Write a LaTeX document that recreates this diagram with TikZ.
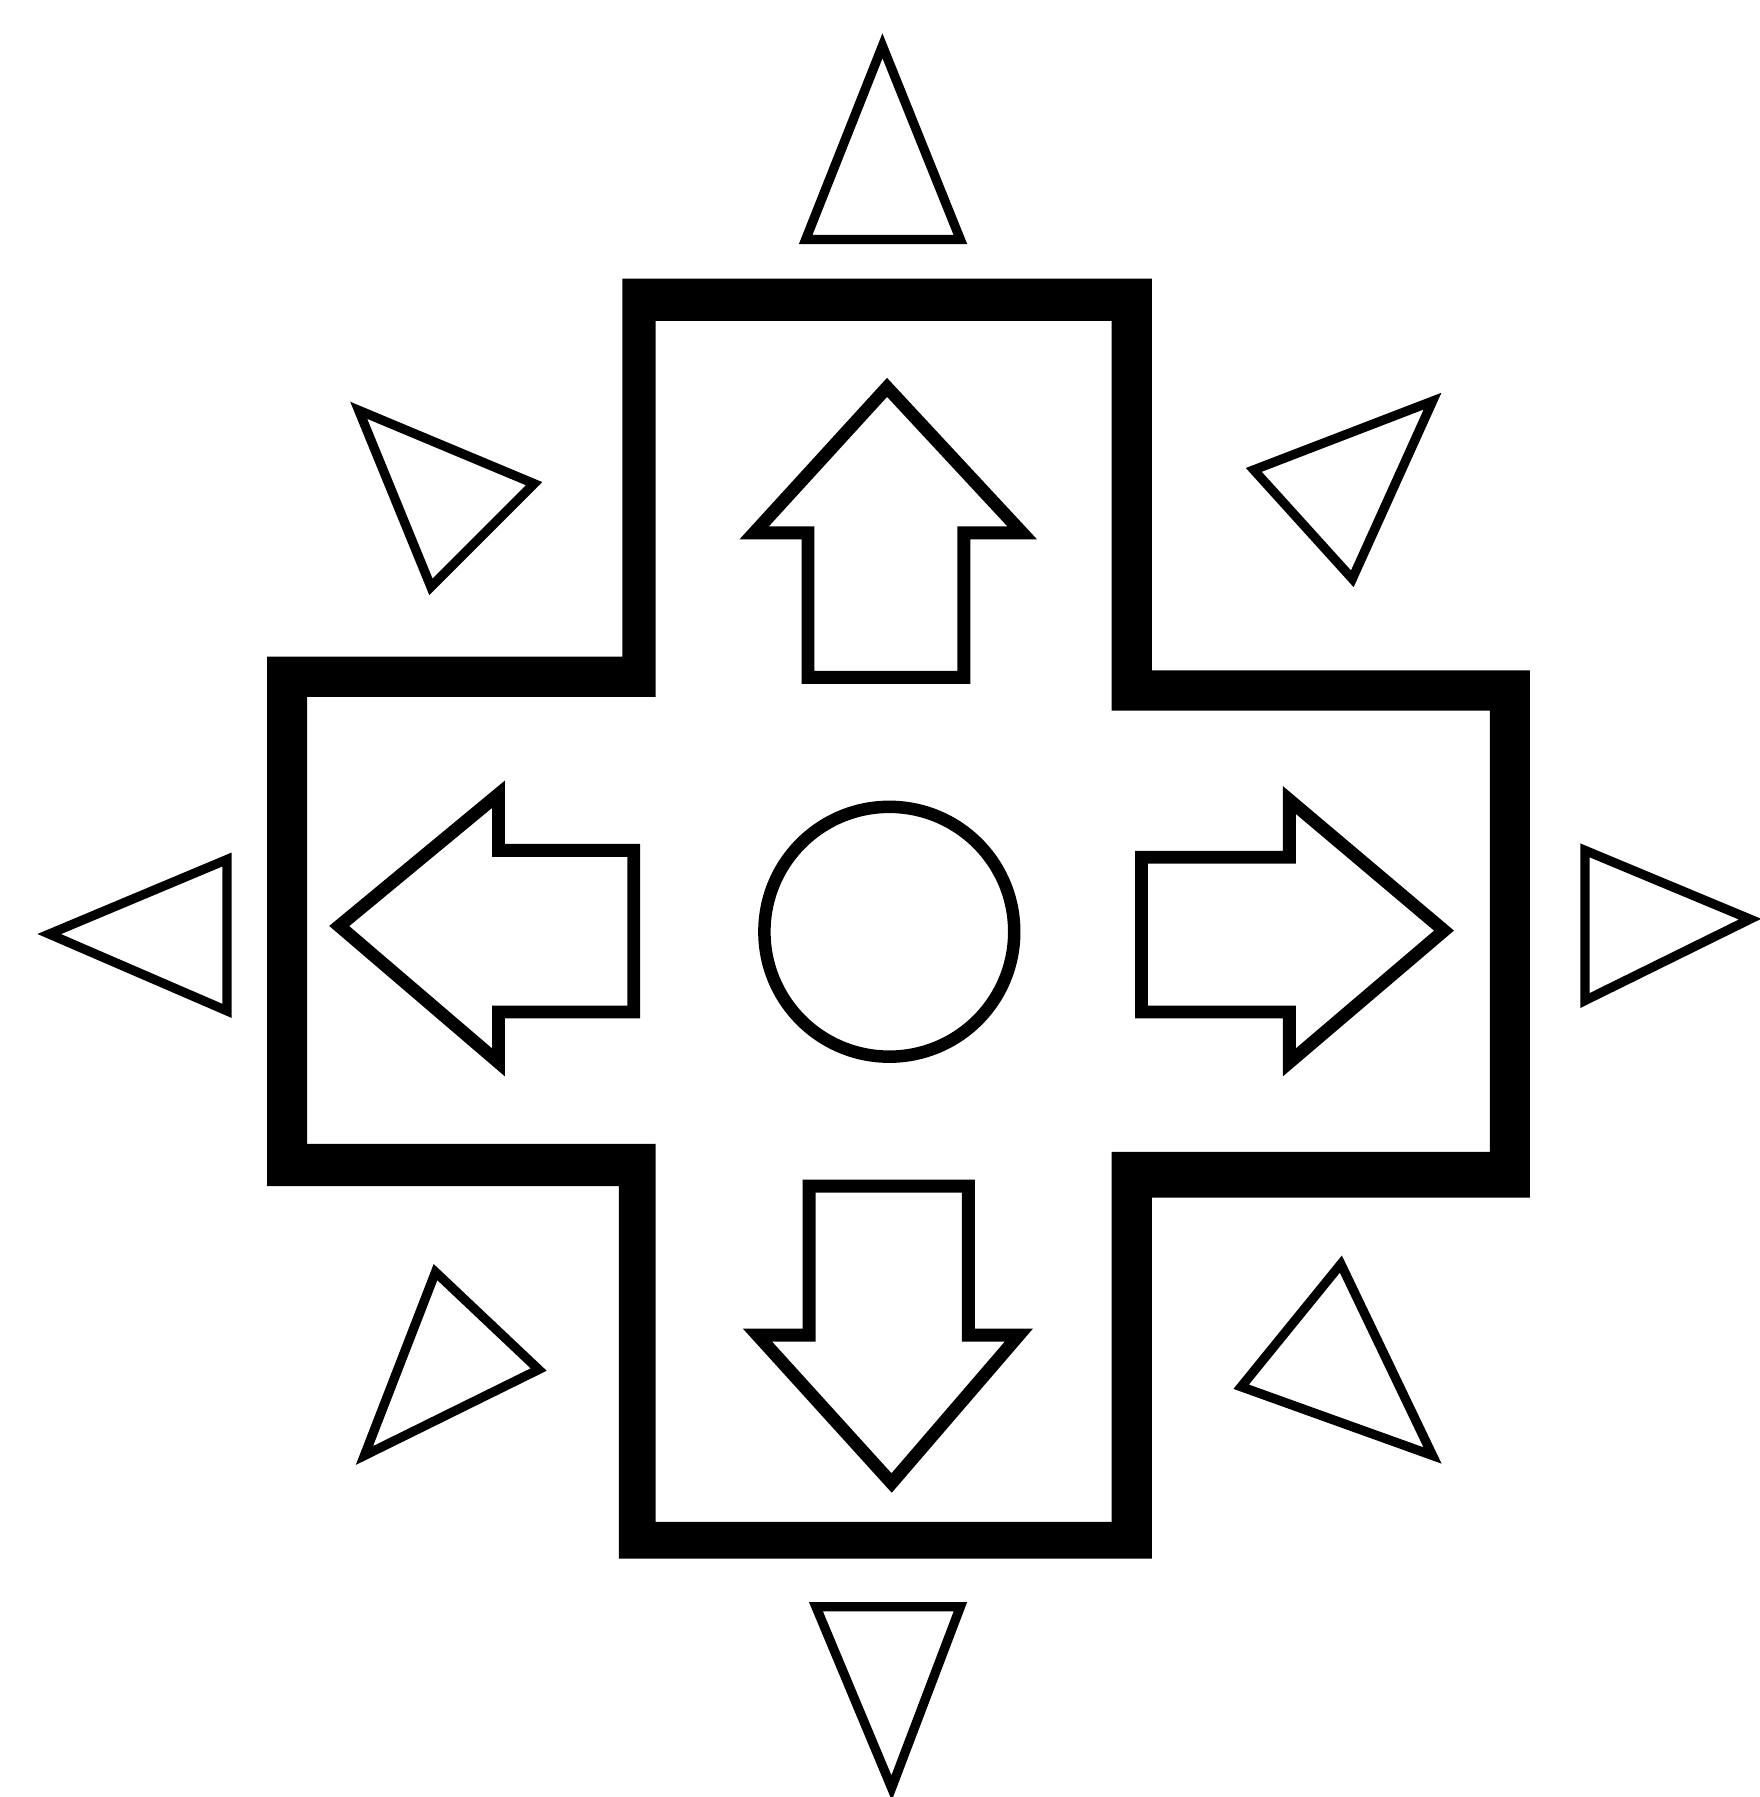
\documentclass[tikz,border=0pt]{standalone}
\begin{document}
\begin{tikzpicture}[x=0.01cm,y=-0.01cm,
  crossframe/.style={fill=black,even odd rule},
  arrowshape/.style={draw=black,line width=3.2pt,line join=miter,fill=white},
  ringshape/.style={draw=black,line width=3.1pt},
  tri/.style={draw=black,line width=2.3pt,line join=miter}]
\fill[white] (0,0) rectangle (1535,1568);
\useasboundingbox (0,0) rectangle (1535,1568);
% cross frame
\path[crossframe]
  (543,243) -- (1005,243) -- (1005,585) -- (1335,585) -- (1335,1045) -- (1005,1045)
  -- (1005,1360) -- (540,1360) -- (540,1035) -- (233,1035) -- (233,573) -- (543,573) -- cycle
  (572,280) -- (970,280) -- (970,620) -- (1300,620) -- (1300,1005) -- (970,1005)
  -- (970,1328) -- (572,1328) -- (572,998) -- (268,998) -- (268,608) -- (572,608) -- cycle;
% block arrows
\draw[arrowshape] (774,338) -- (892,465) -- (841,465) -- (841,591) -- (705,591) -- (705,465) -- (658,465) -- cycle;
\draw[arrowshape] (296,808) -- (435,693) -- (435,742) -- (553,742) -- (553,883) -- (435,883) -- (435,927) -- cycle;
\draw[arrowshape] (1260,812) -- (1125,927) -- (1125,883) -- (996,883) -- (996,748) -- (1125,748) -- (1125,698) -- cycle;
\draw[arrowshape] (706,1035) -- (845,1035) -- (845,1165) -- (889,1165) -- (778,1294) -- (661,1165) -- (706,1165) -- cycle;
% centre circle
\draw[ringshape] (776,813) circle[radius=109];
% outer triangles
\draw[tri] (770,40) -- (838,209) -- (703,209) -- cycle;
\draw[tri] (712,1402) -- (838,1402) -- (778,1560) -- cycle;
\draw[tri] (43,815) -- (198,750) -- (198,882) -- cycle;
\draw[tri] (1383,742) -- (1527,802) -- (1383,873) -- cycle;
\draw[tri] (313,358) -- (466,422) -- (376,512) -- cycle;
\draw[tri] (1250,350) -- (1094,410) -- (1180,505) -- cycle;
\draw[tri] (380,1110) -- (470,1195) -- (318,1270) -- cycle;
\draw[tri] (1170,1103) -- (1250,1270) -- (1083,1210) -- cycle;
\end{tikzpicture}
\end{document}
